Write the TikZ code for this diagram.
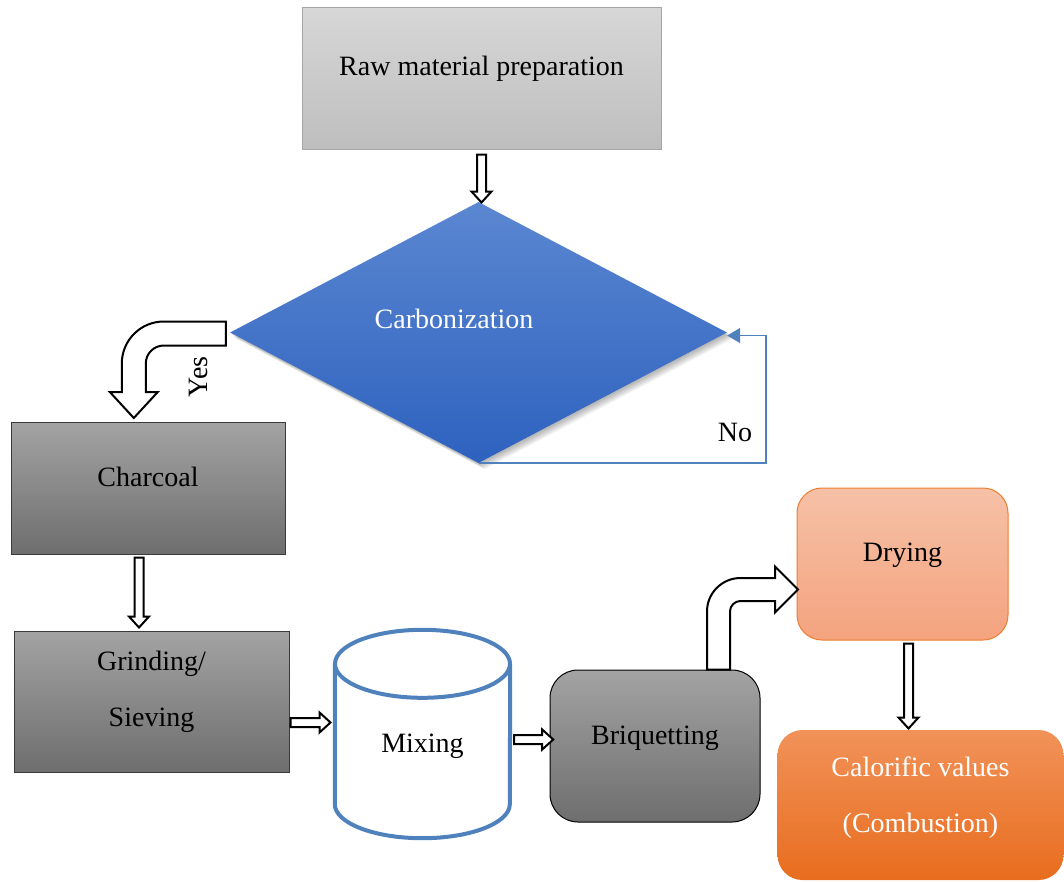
\documentclass[tikz,border=0pt]{standalone}
\usepackage{fontspec}
\setmainfont{Liberation Serif}
\usetikzlibrary{shapes.geometric,arrows.meta,calc}
\definecolor{rawTop}{HTML}{D7D7D7}
\definecolor{rawBot}{HTML}{BEBEBE}
\definecolor{rawEdge}{HTML}{A6A6A6}
\definecolor{procTop}{HTML}{A3A3A3}
\definecolor{procBot}{HTML}{6E6E6E}
\definecolor{procEdge}{HTML}{3A3A3A}
\definecolor{diaTop}{HTML}{5B87D1}
\definecolor{diaBot}{HTML}{2E62BF}
\definecolor{blueLine}{HTML}{4F81BD}
\definecolor{dryTop}{HTML}{F6C1A7}
\definecolor{dryBot}{HTML}{F4A37E}
\definecolor{dryEdge}{HTML}{ED7D31}
\definecolor{calTop}{HTML}{F19259}
\definecolor{calBot}{HTML}{E86D1E}
\pgfdeclarelayer{back}
\pgfdeclarelayer{shade}
\pgfsetlayers{back,shade,main}
\newcommand\boxtxt[2]{\raisebox{#1}[0pt][0pt]{#2}}
\newcommand\boxtxttwo[3]{\raisebox{#1}[0pt][0pt]{\begin{tabular}[b]{@{}c@{}}#2\\[22pt]#3\end{tabular}}}
\tikzset{
  hollow/.style={draw=black, fill=white, line width=2pt, line join=miter},
  procbox/.style={rectangle, draw=procEdge, line width=1pt, top color=procTop, bottom color=procBot},
  pics/blockdown/.style={code={\draw[hollow] (-4.5,0) -- (4.5,0) -- (4.5,#1-11) -- (10,#1-11) -- (0,#1) -- (-10,#1-11) -- (-4.5,#1-11) -- cycle;}},
  pics/blockright/.style={code={\draw[hollow] (0,-4.5) -- (#1-11,-4.5) -- (#1-11,-10) -- (#1,0) -- (#1-11,10) -- (#1-11,4.5) -- (0,4.5) -- cycle;}},
  mixline/.style={draw=blueLine, line width=4pt},
  noline/.style={draw=blueLine, line width=1.5pt}
}
\begin{document}
\begin{tikzpicture}[x=1pt,y=-1pt, every node/.style={font=\fontsize{28}{34}\selectfont, inner sep=0pt}]
\useasboundingbox (0,0) rectangle (1064,881);
\begin{pgfonlayer}{back}
  \fill[white] (0,0) rectangle (1064,881);
\end{pgfonlayer}

% nodes
\node[rectangle, draw=rawEdge, line width=1pt, top color=rawTop, bottom color=rawBot,
      minimum width=359pt, minimum height=142pt] (raw) at (481.5,78) {\boxtxt{3pt}{Raw material preparation}};
\node[diamond, aspect=1.9, minimum width=497pt, minimum height=261pt, top color=diaTop, bottom color=diaBot] (dia) at (478.5,332.5) {};
\node[anchor=base, text=white] (carb) at (454,328) {Carbonization};
\node[procbox, minimum width=274pt, minimum height=132pt] (char) at (148,488) {\boxtxt{2pt}{Charcoal}};
\node[procbox, minimum width=275pt, minimum height=141pt] (grind) at (151.5,701.5) {\boxtxttwo{-25pt}{Grinding/}{Sieving}};
\node[minimum width=175pt, minimum height=208pt] (mix) at (422.5,734) {\boxtxt{-18pt}{Mixing}};
\node[procbox, draw=black, rounded corners=28pt, minimum width=210pt, minimum height=152pt] (briq) at (655,746) {\boxtxt{2pt}{Briquetting}};
\node[rectangle, draw=dryEdge, line width=1pt, rounded corners=25pt, top color=dryTop, bottom color=dryBot,
      minimum width=211pt, minimum height=152pt] (dry) at (902.5,564) {\boxtxt{3pt}{Drying}};
\node[rectangle, rounded corners=25pt, top color=calTop, bottom color=calBot, text=white,
      minimum width=286pt, minimum height=150pt] (cal) at (920.5,805) {\boxtxttwo{-27pt}{Calorific values}{(Combustion)}};
\node[rotate=90] (yes) at (198,377) {Yes};
\node[anchor=base] (nolbl) at (735,441) {No};

% diamond shadow
\begin{pgfonlayer}{shade}
  \foreach \i in {1,...,6}
    \fill[black, opacity=0.05] ($(dia.north)+(\i,\i)$) -- ($(dia.east)+(\i,\i)$) -- ($(dia.south)+(\i,\i)$) -- ($(dia.west)+(\i,\i)$) -- cycle;
\end{pgfonlayer}

% mixing cylinder
\draw[mixline] ($(mix.north west)+(0,34)$) -- ($(mix.south west)+(0,-34)$)
  arc[start angle=180, end angle=360, x radius=87.5pt, y radius=34pt] -- ($(mix.north east)+(0,34)$);
\draw[mixline] ($(mix.north)+(0,34)$) ellipse [x radius=87.5pt, y radius=34pt];

% straight block arrows
\pic at ($(raw.south)+(0,5)$) {blockdown=48};
\pic at ($(char.south)+(-9,3)$) {blockdown=70};
\pic at ($(grind.east)+(1,21)$) {blockright=40};
\pic at ($(mix.east)+(4,5.5)$) {blockright=39};
\pic at ($(dry.south)+(6,3)$) {blockdown=85};

% Yes bent arrow
\draw[hollow] ($(dia.west)+(-4,-11)$) -- ++(-62,0)
  arc[start angle=90, end angle=180, radius=42pt] -- ++(0,28.5)
  -- ++(-12,0) -- ++(24,26) -- ++(24,-26) -- ++(-12,0) -- ++(0,-28.5)
  arc[start angle=180, end angle=90, radius=18pt] -- ++(62,0) -- cycle;

% Briquetting -> Drying bent arrow
\draw[hollow] ($(briq.north)+(52,0)$) -- ++(0,-58)
  arc[start angle=180, end angle=90, radius=33.5pt] -- ++(34.5,0)
  -- ++(0,-11.5) -- ++(23,23) -- ++(-23,23) -- ++(0,-11.5) -- ++(-34.5,0)
  arc[start angle=90, end angle=180, radius=10.5pt] -- ++(0,58) -- cycle;

% No loop
\draw[noline, -{Triangle[length=13pt, width=15pt]}] (dia.south) -| ($(dia.east)+(39,3)$) -- ($(dia.east)+(0,3)$);
\end{tikzpicture}
\end{document}
